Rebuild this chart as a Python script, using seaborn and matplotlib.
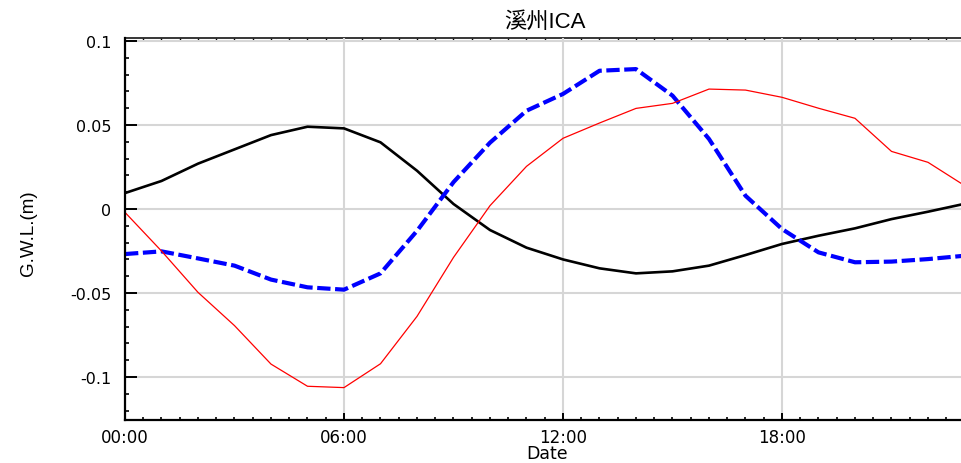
import matplotlib
matplotlib.use("Agg")
import matplotlib.pyplot as plt
import seaborn as sns
import numpy as np
import pandas as pd
from matplotlib.ticker import MultipleLocator

# hourly values
hours = list(range(24))
black_vals = [0.0095, 0.0167, 0.027, 0.0355, 0.044, 0.049, 0.048, 0.0397, 0.0228, 0.003,
              -0.0125, -0.023, -0.030, -0.0353, -0.0383, -0.0371, -0.0337, -0.0274,
              -0.0208, -0.0159, -0.0115, -0.006, -0.0016, 0.0031]
red_vals = [-0.002, -0.025, -0.0496, -0.0694, -0.0923, -0.1055, -0.1063, -0.0921, -0.0639,
            -0.0288, 0.002, 0.0254, 0.0421, 0.0512, 0.0599, 0.0629, 0.0714, 0.0708,
            0.0665, 0.060, 0.054, 0.0343, 0.0278, 0.014]
blue_vals = [-0.0268, -0.0252, -0.0294, -0.0337, -0.042, -0.0466, -0.048, -0.0383, -0.013,
             0.016, 0.0395, 0.0585, 0.0685, 0.0823, 0.0833, 0.0675, 0.0417, 0.0079,
             -0.0119, -0.0258, -0.0317, -0.0313, -0.0298, -0.0278]

x_ticks = [0, 6, 12, 18]
x_ticklabels = ["00:00", "06:00", "12:00", "18:00"]
y_ticks = [-0.1, -0.05, 0, 0.05, 0.1]
y_ticklabels = ["-0.1", "-0.05", "0", "0.05", "0.1"]
title = "溪州ICA"

df = pd.DataFrame({"hour": hours, "black": black_vals, "red": red_vals, "blue": blue_vals})

sns.set_style("white")
plt.rcParams['font.family'] = ['DejaVu Sans', 'Noto Sans CJK SC']
for key in ['text.color', 'axes.labelcolor', 'xtick.color', 'ytick.color']:
    plt.rcParams[key] = 'black'

fig = plt.figure(figsize=(9.61, 4.64), dpi=100)
ax = fig.add_axes([125 / 961, 43.3 / 464, 839.5 / 961, 381.7 / 464])

sns.lineplot(data=df, x="hour", y="black", color="black", linewidth=1.9, ax=ax)
sns.lineplot(data=df, x="hour", y="blue", color="#0000ff", linewidth=3.0,
             dashes=False, ax=ax)
ax.lines[-1].set_dashes([3.2, 1.1])
sns.lineplot(data=df, x="hour", y="red", color="#ff0000", linewidth=0.9, ax=ax)

ax.set_xlim(0, 23)
ax.set_ylim(-0.1254, 0.1018)

ax.set_xticks(x_ticks)
ax.set_xticklabels(x_ticklabels, fontsize=12)
ax.set_yticks(y_ticks)
ax.set_yticklabels(y_ticklabels, fontsize=11.5)
ax.xaxis.set_minor_locator(MultipleLocator(0.5))
ax.yaxis.set_minor_locator(MultipleLocator(0.01))

ax.tick_params(axis="x", which="major", direction="in", length=5, width=1.4, pad=6,
               top=False, bottom=True)
ax.tick_params(axis="x", which="minor", direction="in", length=2.5, width=1.2,
               top=False, bottom=True)
ax.tick_params(axis="y", which="major", direction="in", length=8.5, width=1.4, pad=10,
               left=True, right=False)
ax.tick_params(axis="y", which="minor", direction="in", length=3, width=1.2,
               left=True, right=False)

# top and right ticks drawn without labels
top = ax.secondary_xaxis("top")
top.set_xticks(x_ticks)
top.xaxis.set_minor_locator(MultipleLocator(0.5))
top.tick_params(axis="x", which="major", direction="in", length=4.5, width=1.2, labeltop=False)
top.tick_params(axis="x", which="minor", direction="in", length=2.2, width=1.0)
top.spines["top"].set_linewidth(1.3)

right = ax.secondary_yaxis("right")
right.set_yticks(y_ticks)
right.tick_params(axis="y", which="major", direction="in", length=3, width=1.2, labelright=False)
right.tick_params(axis="y", which="minor", length=0)

ax.grid(True, which="major", color="#d6d6d6", linewidth=1.5)
ax.set_axisbelow(True)

for side in ["left", "bottom"]:
    ax.spines[side].set_linewidth(1.6)
    ax.spines[side].set_color("black")
ax.spines["top"].set_visible(False)
ax.spines["right"].set_visible(False)

ax.set_xlabel("Date", fontsize=12.5, va="bottom")
ax.xaxis.set_label_coords(0.503, (420.7 - 463) / 381.7)
ax.set_ylabel("G.W.L.(m)", fontsize=13.5, family=['Liberation Sans'])
ax.yaxis.set_label_coords(-0.105, 0.49)

ax.set_title(title, fontsize=16, pad=8,
             family=['Liberation Sans', 'Noto Sans CJK SC'])

fig.savefig("out.png", dpi=100)
